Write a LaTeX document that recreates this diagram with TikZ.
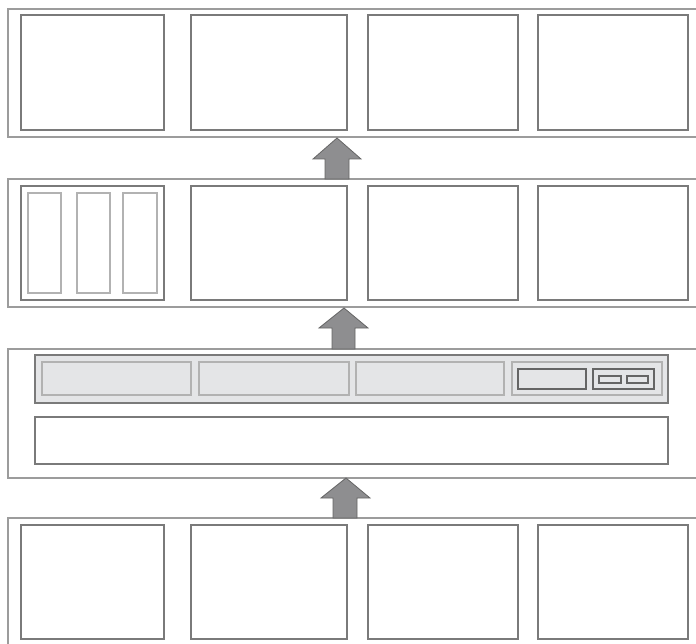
\documentclass[tikz,border=0pt]{standalone}
\usepackage{xcolor}

\definecolor{framegray}{HTML}{9C9C9C}
\definecolor{boxgray}{HTML}{7A7A7A}
\definecolor{barfill}{HTML}{E4E5E7}
\definecolor{subgray}{HTML}{B2B2B2}
\definecolor{arrowfill}{HTML}{8E8E90}
\definecolor{arrowline}{HTML}{656565}

\tikzset{
  layer/.style={draw=framegray,line width=1.6pt},
  cell/.style={draw=boxgray,line width=1.6pt,fill=white},
  slot/.style={draw=subgray,line width=1.6pt},
  upflow/.style={fill=arrowfill,draw=arrowline,line width=0.8pt,line join=miter}
}

\begin{document}
\begin{tikzpicture}[x=1pt,y=-1pt]
\useasboundingbox (0,0) rectangle (696,644);
\clip (0,0) rectangle (696,644);

% layers
\draw[layer] (8,9) rectangle (720,137);
\draw[layer] (8,179) rectangle (720,307);
\draw[layer] (8,349) rectangle (720,478);
\draw[layer] (8,518) rectangle (720,680);

% top and bottom rows of cells
\foreach \xa/\xb in {21/164,191/347,368/518,538/688} {
  \draw[cell] (\xa,15) rectangle (\xb,130);
  \draw[cell] (\xa,525) rectangle (\xb,639);
}

% second row
\foreach \xa/\xb in {21/164,191/347,368/518,538/688}
  \draw[cell] (\xa,186) rectangle (\xb,300);
\foreach \xa/\xb in {28/61,77/110,123/157}
  \draw[slot] (\xa,193) rectangle (\xb,293);

% third layer: bar and panel
\draw[cell,fill=barfill] (35,355) rectangle (668,403);
\foreach \xa/\xb in {42/191,199/349,356/504,512/662}
  \draw[slot] (\xa,362) rectangle (\xb,395);
\draw[draw=arrowline,line width=1.4pt] (518,369) rectangle (586,389);
\draw[draw=arrowline,line width=1.4pt] (593,369) rectangle (654,389);
\draw[draw=arrowline,line width=1.2pt] (599,376) rectangle (621,383);
\draw[draw=arrowline,line width=1.2pt] (627,376) rectangle (648,383);
\draw[cell] (35,417) rectangle (668,464);

% arrows
\draw[upflow] (337,138) -- (361,159) -- (349,159) -- (349,179) -- (325,179)
  -- (325,159) -- (313,159) -- cycle;
\draw[upflow] (344,308) -- (368,328) -- (355,328) -- (355,349) -- (332,349)
  -- (332,328) -- (319,328) -- cycle;
\draw[upflow] (346,478) -- (370,498) -- (357,498) -- (357,518) -- (333,518)
  -- (333,498) -- (321,498) -- cycle;
\end{tikzpicture}
\end{document}
